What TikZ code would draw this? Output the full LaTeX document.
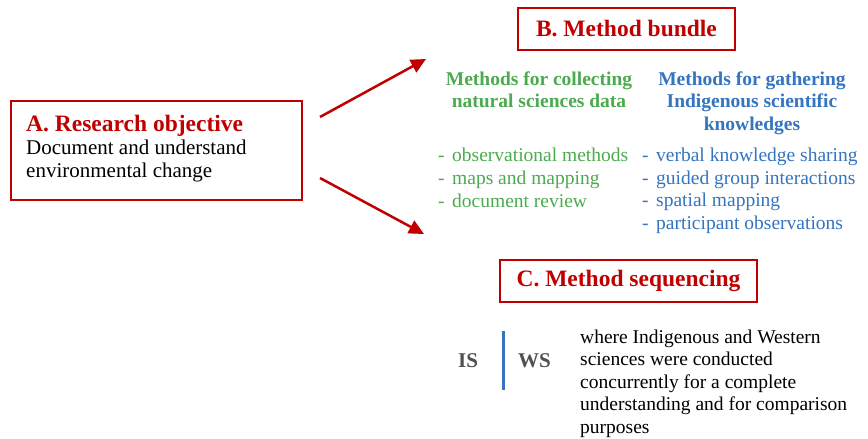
\documentclass[tikz,border=0pt]{standalone}
\usepackage{fontspec}
\setmainfont{Liberation Serif}
\usetikzlibrary{arrows.meta}
\definecolor{dred}{RGB}{192,0,0}
\definecolor{mgreen}{RGB}{76,170,80}
\definecolor{mblue}{RGB}{52,116,192}
\definecolor{isgray}{RGB}{80,80,80}
\newcommand{\dsh}{-\hspace{7.5pt}}
\tikzset{
  redbox/.style={draw=dred, line width=2pt, rectangle, inner sep=0pt},
  headtxt/.style={font=\fontsize{23.5}{28}\selectfont\bfseries, text=dred, inner sep=0pt},
  bodytxt/.style={font=\fontsize{21}{23.5}\selectfont, align=left, inner sep=0pt},
  colhead/.style={font=\fontsize{19.5}{22.5}\selectfont\bfseries, align=center, inner sep=0pt},
  listtxt/.style={font=\fontsize{19.5}{22.6}\selectfont, align=left, inner sep=0pt},
  greenlist/.style={font=\fontsize{19.5}{23}\selectfont, align=left, inner sep=0pt, text=mgreen},
  redarrow/.style={draw=dred, line width=2.5pt, -{Triangle[length=15pt,width=14pt]}},
  istxt/.style={font=\fontsize{21}{24}\selectfont\bfseries, text=isgray, inner sep=0pt},
}
\begin{document}
\begin{tikzpicture}[x=1pt,y=-1pt]
\useasboundingbox (0,0) rectangle (868,439);
% A
\node[redbox, minimum width=291pt, minimum height=99pt, anchor=north west] (A) at (10,100) {};
\node[headtxt, anchor=base west] (At) at (26,131) {A. Research objective};
\node[bodytxt, anchor=base west] (Ab) at (26,177.5) {Document and understand\\environmental change};
% B
\node[redbox, headtxt, minimum width=217pt, minimum height=42pt] (B) at (626.5,29) {B. Method bundle};
% C
\node[redbox, headtxt, minimum width=257pt, minimum height=42pt] (C) at (628.5,281) {C. Method sequencing};
% arrows
\coordinate (a1s) at (320,117);
\coordinate (a1e) at (426,59);
\coordinate (a2s) at (320,178);
\coordinate (a2e) at (424,234);
\draw[redarrow] (a1s) -- (a1e);
\draw[redarrow] (a2s) -- (a2e);
% column headings
\node[colhead, text=mgreen, anchor=base] (G) at (539,107.5) {Methods for collecting\\natural sciences data};
\node[colhead, text=mblue, anchor=base] (Bl) at (752,130) {Methods for gathering\\Indigenous scientific\\knowledges};
% lists
\node[greenlist, anchor=base west] (GL) at (438,207.7) {\dsh observational methods\\\dsh maps and mapping\\\dsh document review};
\node[listtxt, text=mblue, anchor=base west] (BL) at (642,229.5) {\dsh verbal knowledge sharing\\\dsh guided group interactions\\\dsh spatial mapping\\\dsh participant observations};
% IS | WS
\node[istxt, anchor=base west] (IS) at (458,367) {IS};
\node[istxt, anchor=base west] (WS) at (518,367) {WS};
\coordinate (L1) at (503,331);
\coordinate (L2) at (503,390);
\draw[mblue, line width=3pt] (L1) -- (L2);
% description
\node[listtxt, text=black, anchor=base west] (D) at (580,433.4) {where Indigenous and Western\\sciences were conducted\\concurrently for a complete\\understanding and for comparison\\purposes};
\end{tikzpicture}
\end{document}
